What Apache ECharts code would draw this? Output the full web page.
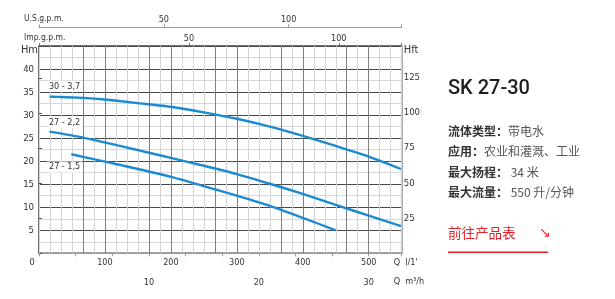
<!DOCTYPE html>
<html><head><meta charset="utf-8">
<script src="https://cdn.jsdelivr.net/npm/echarts@6/dist/echarts.min.js"></script>
<style>html,body{margin:0;padding:0;background:#fff;}#c{width:615px;height:299px;}</style>
</head><body><div id="c"></div>
<script>
// ---- data ----
const curveNames = ['30 - 3,7', '27 - 2,2', '27 - 1,5'];
const curve1Q = [16, 67, 100, 150, 200, 250, 300, 350, 400, 450, 500, 549];
const curve1H = [34.0, 33.75, 33.4, 32.6, 31.8, 30.6, 29.2, 27.5, 25.5, 23.3, 21.0, 18.3];
const curve2Q = [16, 67, 150, 200, 250, 300, 350, 400, 450, 500, 549];
const curve2H = [26.4, 25.1, 22.4, 20.7, 19.0, 17.2, 15.1, 12.9, 10.5, 8.2, 5.9];
const curve3Q = [49, 100, 150, 200, 250, 300, 350, 400, 450];
const curve3H = [21.5, 19.9, 18.3, 16.6, 14.6, 12.5, 10.3, 7.7, 5.0];
const darkGridQ = [66.667, 100, 166.667, 200, 266.667, 300, 366.667, 400, 466.667, 500];
const lpmTicks = [0, 100, 200, 300, 400, 500];
const m3hTicks = [10, 20, 30];
const usTicks = [50, 100];
const impTicks = [50, 100];
const hmTicks = [5, 10, 15, 20, 25, 30, 35, 40];
const hftTicks = [25, 50, 75, 100, 125];
const maxQ = 550, maxH = 45;
const axisNames = {lpm: "Q  l/1'", m3h: 'Q  m³/h', us: 'U.S.g.p.m.', imp: 'Imp.g.p.m.', hm: 'Hm', hft: 'Hft'};
const infoTitle = 'SK 27-30';
const infoRows = [['流体类型：', '带电水'], ['应用：', '农业和灌溉、工业'], ['最大扬程：', ' 34 米'], ['最大流量：', ' 550 升/分钟']];
const linkText = '前往产品表';

const F = "'DejaVu Sans Condensed','DejaVu Sans',sans-serif";
const labelColor = '#333';
const blue = '#1a8ad2';
function near(v, arr){ return arr.some(t => Math.abs(v - t) < 1e-6); }

const G = {left: 39, top: 46, width: 362.7, height: 207.3};
const gRight = G.left + G.width, gBottom = G.top + G.height;

const chart = echarts.init(document.getElementById('c'));
function zip(q, h){ return q.map((x, i) => [x, h[i]]); }
function curve(name, q, h, off){
  return {
    name, type: 'line', xAxisIndex: 0, yAxisIndex: 0, smooth: 0.2, symbol: 'none', z: 5,
    lineStyle: {color: blue, width: 2.4}, data: zip(q, h), animation: false,
    markPoint: {symbol: 'circle', symbolSize: 1, itemStyle: {color: 'rgba(0,0,0,0)'}, silent: true, animation: false,
      data: [{coord: [q[0], h[0]], value: name,
        label: {show: true, formatter: name, position: 'inside', offset: off, color: labelColor, fontFamily: F, fontSize: 9,
          backgroundColor: '#fff', padding: [1, 2]}}]}
  };
}
const txt = (x, y, s, size, align, vAlign) => ({type: 'text', x, y, silent: true,
  style: {text: s, fill: labelColor, font: size + 'px ' + F, align: align || 'left', verticalAlign: vAlign || 'middle'}});

const opt = {
  backgroundColor: '#fff',
  animation: false,
  grid: Object.assign({show: true, borderColor: '#444', borderWidth: 1.5, backgroundColor: 'transparent'}, G),
  xAxis: [
    {type: 'value', min: 0, max: maxQ, interval: 100, position: 'bottom',
      axisLine: {show: false}, axisTick: {show: false}, splitLine: {show: false},
      axisLabel: {color: labelColor, fontFamily: F, fontSize: 9, margin: 5,
        formatter: v => near(v, lpmTicks) ? (v === 0 ? '{z|0}' : String(v)) : '',
        rich: {z: {padding: [0, 14, 0, 0], color: labelColor, fontFamily: F, fontSize: 9}}}},
    {type: 'value', min: 0, max: maxQ * 60 / 1000, interval: 10 / 3, position: 'bottom', offset: 20,
      axisLine: {show: true, lineStyle: {color: '#9a9a9a', width: 1}},
      axisTick: {show: true, length: 3, lineStyle: {color: '#9a9a9a'}}, splitLine: {show: false},
      axisLabel: {color: labelColor, fontFamily: F, fontSize: 9, margin: 5,
        formatter: v => near(v, m3hTicks) ? String(Math.round(v)) : ''}},
    {type: 'value', min: 0, max: maxQ / 3.785, interval: 50, position: 'top', offset: 18.7,
      name: axisNames.us, nameLocation: 'start', nameGap: 15,
      nameTextStyle: {color: labelColor, fontFamily: F, fontSize: 8.5, align: 'left', verticalAlign: 'bottom', padding: [0, 0, 4, 0]},
      axisLine: {show: true, lineStyle: {color: '#9a9a9a', width: 1}},
      axisTick: {show: true, length: 3, lineStyle: {color: '#9a9a9a'}}, splitLine: {show: false},
      axisLabel: {color: labelColor, fontFamily: F, fontSize: 9, margin: 3, formatter: v => near(v, usTicks) ? String(v) : ''}},
    {type: 'value', min: 0, max: maxQ / 4.546, interval: 50, position: 'top', offset: 0,
      name: axisNames.imp, nameLocation: 'start', nameGap: 15,
      nameTextStyle: {color: labelColor, fontFamily: F, fontSize: 8.5, align: 'left', verticalAlign: 'bottom', padding: [0, 0, 4, 0]},
      axisLine: {show: false},
      axisTick: {show: true, length: 3, lineStyle: {color: '#777'}}, splitLine: {show: false},
      axisLabel: {color: labelColor, fontFamily: F, fontSize: 9, margin: 3, formatter: v => near(v, impTicks) ? String(v) : ''}},
    {type: 'value', min: 0, max: maxQ * 60 / 1000, interval: 1, position: 'bottom',
      axisLine: {show: false}, axisTick: {show: false}, axisLabel: {show: false},
      splitLine: {show: true, lineStyle: {color: '#d4d4d4', width: 1}}}
  ],
  yAxis: [
    {type: 'value', min: 0, max: maxH, interval: 5, position: 'left',
      axisLine: {show: false}, axisTick: {show: false},
      axisLabel: {color: labelColor, fontFamily: F, fontSize: 9.5, margin: 5, formatter: v => near(v, hmTicks) ? String(v) : ''},
      splitLine: {show: true, lineStyle: {color: '#4a4a4a', width: 1}},
      minorTick: {show: false, splitNumber: 2},
      minorSplitLine: {show: true, lineStyle: {color: '#d8d8d8', width: 1}}},
    {type: 'value', min: 0, max: maxH * 3.2808, interval: 25, position: 'right',
      axisLine: {show: false},
      axisTick: {show: true, length: 3, lineStyle: {color: '#555'}},
      axisLabel: {color: labelColor, fontFamily: F, fontSize: 9.5, margin: 2, formatter: v => near(v, hftTicks) ? String(v) : ''},
      splitLine: {show: false}}
  ],
  series: [
    {name: 'grid', type: 'line', xAxisIndex: 0, yAxisIndex: 0, data: [], z: 1, silent: true,
      markLine: {silent: true, symbol: ['none', 'none'], animation: false, label: {show: false},
        lineStyle: {color: '#808080', width: 1, type: 'solid'},
        data: darkGridQ.map(q => ({xAxis: q}))}},
    curve(curveNames[0], curve1Q, curve1H, [15, -10.5]),
    curve(curveNames[1], curve2Q, curve2H, [15, -9.5]),
    curve(curveNames[2], curve3Q, curve3H, [-6.7, 12.7])
  ],
  graphic: [
    txt(G.left - 1, 50, axisNames.hm, 11, 'right'),
    txt(gRight + 2, 50, axisNames.hft, 11, 'left'),
    txt(gRight - 8, gBottom + 9, axisNames.lpm, 9, 'left'),
    txt(gRight - 8, gBottom + 28.5, axisNames.m3h, 9, 'left'),
    {type: 'text', left: 448, top: 79, style: {text: infoTitle, fill: '#1e1e1e', font: "500 20px Roboto, sans-serif"}},
    ...infoRows.map((r, i) => ({type: 'text', left: 448, top: 125 + i * 20.5,
      style: {text: '{b|' + r[0] + '}{v|' + r[1] + '}',
        rich: {b: {fill: '#333', fontWeight: 'bold', fontSize: 12, fontFamily: "'Noto Sans CJK SC'"},
               v: {fill: '#555', fontSize: 12, fontFamily: "'Noto Sans CJK SC'"}}}})),
    {type: 'text', left: 448, top: 226, style: {text: linkText, fill: '#e6212a', font: "13.5px 'Noto Sans CJK SC'"}},
    {type: 'text', left: 539, top: 226, style: {text: '↘', fill: '#e6212a', font: "14px 'DejaVu Sans'"}},
    {type: 'line', shape: {x1: 448, y1: 252.3, x2: 548, y2: 252.3}, style: {stroke: '#e6212a', lineWidth: 1.5}}
  ]
};
chart.setOption(opt);
</script></body></html>
